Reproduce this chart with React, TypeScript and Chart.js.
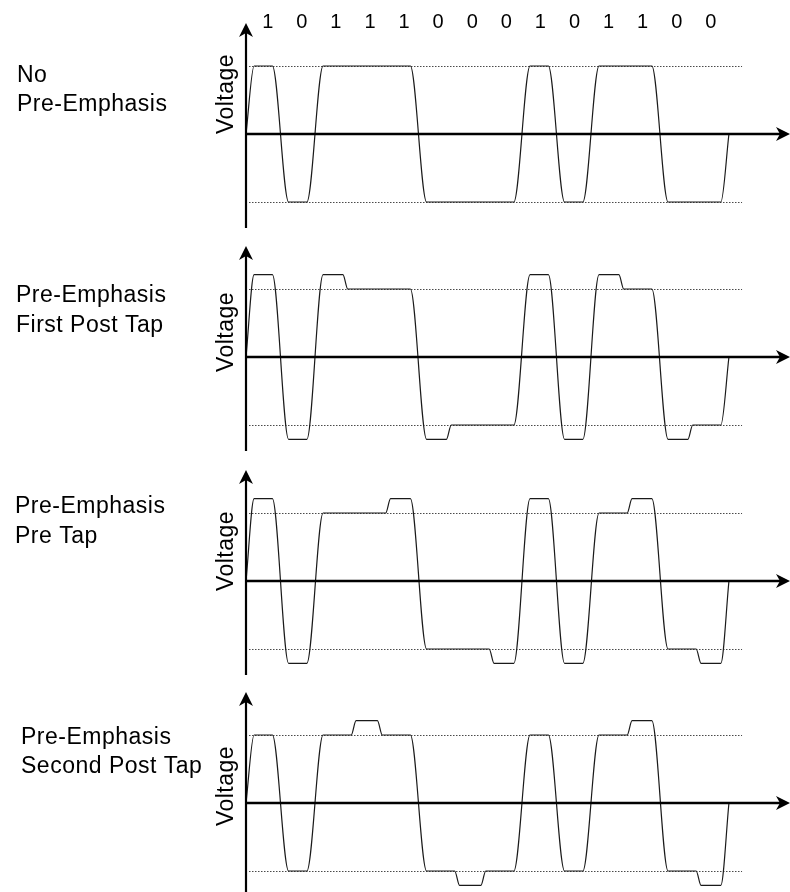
import { useEffect, useRef } from 'react';
import { Chart, registerables } from 'chart.js';

Chart.register(...registerables);

// ---------------- data ----------------
const bitLabels = ['1', '0', '1', '1', '1', '0', '0', '0', '1', '0', '1', '1', '0', '0'];
const bitValues = [1, 0, 1, 1, 1, 0, 0, 0, 1, 0, 1, 1, 0, 0];
// magnitude of the driven level for each bit (1 = nominal swing, 1.21 = emphasised)
const noEmphasisLevels = [1, 1, 1, 1, 1, 1, 1, 1, 1, 1, 1, 1, 1, 1];
const firstPostTapLevels = [1.21, 1.21, 1.21, 1, 1, 1.21, 1, 1, 1.21, 1.21, 1.21, 1, 1.21, 1];
const preTapLevels = [1.21, 1.21, 1, 1, 1.21, 1, 1, 1.21, 1.21, 1.21, 1, 1.21, 1, 1.21];
const secondPostTapLevels = [1, 1, 1, 1.21, 1, 1, 1.21, 1, 1, 1, 1, 1.21, 1, 1.21];
const nominalLevels = [1, -1];
const panelTitles = [
  ['No', 'Pre-Emphasis'],
  ['Pre-Emphasis', 'First Post Tap'],
  ['Pre-Emphasis', 'Pre Tap'],
  ['Pre-Emphasis', 'Second Post Tap'],
];
const yAxisTitle = 'Voltage';

// ---------------- layout / style ----------------
const W = 790;
const CANVAS_H = 232;
const ZERO_IN_CANVAS = 136;
const PANELS = [
  { levels: noEmphasisLevels, zero: 134, titleX: 17, titleY: [82, 111], voltY: 94, showBits: true },
  { levels: firstPostTapLevels, zero: 357, titleX: 16, titleY: [302, 332], voltY: 332, showBits: false },
  { levels: preTapLevels, zero: 581, titleX: 15, titleY: [513, 543], voltY: 551, showBits: false },
  { levels: secondPostTapLevels, zero: 803, titleX: 21, titleY: [744, 773], voltY: 786, showBits: false },
];
const EDGE = 0.235; // half width of a polarity transition, in bit periods
const STEP = 0.07; // half width of an emphasis step, in bit periods
const STEP_SHIFT = 0.12; // emphasis steps sit slightly inside the emphasised bit
const X_MAX = 15.77;
const Y_MIN = -94 / 68;
const Y_MAX = 110 / 68;
const DOT_END = 14.38;
const TEXT_FONT = '23px "Liberation Sans", Arial, sans-serif';
const BIT_FONT = '20px "Liberation Sans", Arial, sans-serif';

function buildWave(levels: number[]) {
  const v = bitValues.map((b, i) => (b ? 1 : -1) * levels[i]);
  const n = v.length;
  const pts: { x: number; y: number }[] = [{ x: 0, y: 0 }];
  const stepCenter = (b: number, a: number, c: number) =>
    b + (Math.abs(c) > Math.abs(a) ? STEP_SHIFT : -STEP_SHIFT);
  for (let i = 0; i < n; i++) {
    const prev = i > 0 ? v[i - 1] : 0;
    const next = i < n - 1 ? v[i + 1] : 0;
    if (i === 0 || v[i] !== prev) {
      if (i === 0 || Math.sign(prev) !== Math.sign(v[i])) pts.push({ x: i + EDGE, y: v[i] });
      else pts.push({ x: stepCenter(i, prev, v[i]) + STEP, y: v[i] });
    }
    if (i === n - 1 || v[i] !== next) {
      if (i === n - 1) {
        pts.push({ x: i + 1 - EDGE, y: v[i] });
        pts.push({ x: i + 1, y: 0 });
      } else if (Math.sign(next) !== Math.sign(v[i])) {
        pts.push({ x: i + 1 - EDGE, y: v[i] });
      } else {
        pts.push({ x: stepCenter(i + 1, v[i], next) - STEP, y: v[i] });
      }
    }
  }
  return pts;
}

function makePlugin(p: (typeof PANELS)[number], idx: number) {
  const canvasTop = p.zero - ZERO_IN_CANVAS;
  return {
    id: 'diagram' + idx,
    beforeDatasetsDraw(chart: any) {
      const { ctx, scales } = chart;
      const xs = scales.x;
      const ys = scales.y;
      ctx.save();
      ctx.strokeStyle = '#4a4a4a';
      ctx.lineWidth = 1;
      ctx.setLineDash([1.5, 1.5]);
      nominalLevels.forEach((lv) => {
        const y = Math.round(ys.getPixelForValue(lv)) + 0.5;
        ctx.beginPath();
        ctx.moveTo(xs.getPixelForValue(0) + 3, y);
        ctx.lineTo(xs.getPixelForValue(DOT_END), y);
        ctx.stroke();
      });
      ctx.restore();
    },
    afterDatasetsDraw(chart: any) {
      const { ctx, scales, chartArea } = chart;
      const xs = scales.x;
      const ys = scales.y;
      const x0 = xs.getPixelForValue(0);
      const y0 = ys.getPixelForValue(0);
      const top = chartArea.top;
      const bottom = chartArea.bottom;
      const right = chartArea.right;
      ctx.save();
      ctx.setLineDash([]);
      ctx.strokeStyle = '#000';
      ctx.fillStyle = '#000';
      // y axis
      ctx.lineWidth = 2.2;
      ctx.beginPath();
      ctx.moveTo(x0, bottom);
      ctx.lineTo(x0, top + 8);
      ctx.stroke();
      ctx.beginPath();
      ctx.moveTo(x0, top - 1);
      ctx.lineTo(x0 - 7, top + 13);
      ctx.lineTo(x0, top + 9);
      ctx.lineTo(x0 + 7, top + 13);
      ctx.closePath();
      ctx.fill();
      // x axis
      ctx.lineWidth = 2.6;
      ctx.beginPath();
      ctx.moveTo(x0, y0);
      ctx.lineTo(right - 8, y0);
      ctx.stroke();
      ctx.beginPath();
      ctx.moveTo(right, y0);
      ctx.lineTo(right - 14, y0 - 7);
      ctx.lineTo(right - 10, y0);
      ctx.lineTo(right - 14, y0 + 7);
      ctx.closePath();
      ctx.fill();

      // bit labels
      if (p.showBits) {
        ctx.font = BIT_FONT;
        ctx.textAlign = 'center';
        ctx.textBaseline = 'alphabetic';
        bitLabels.forEach((b, i) => {
          ctx.fillText(b, xs.getPixelForValue(0.63 + i * 0.988), y0 - 106);
        });
      }
      // panel titles
      ctx.font = TEXT_FONT;
      try {
        (ctx as any).letterSpacing = '0.5px';
      } catch (e) {}
      ctx.textAlign = 'left';
      ctx.textBaseline = 'alphabetic';
      panelTitles[idx].forEach((line, k) => {
        ctx.fillText(line, p.titleX, p.titleY[k] - canvasTop);
      });
      // y axis title
      ctx.translate(233, p.voltY - canvasTop);
      ctx.rotate(-Math.PI / 2);
      ctx.textAlign = 'center';
      ctx.fillText(yAxisTitle, 0, 0);
      ctx.restore();
    },
  };
}

function Panel({ idx }: { idx: number }) {
  const ref = useRef<HTMLCanvasElement>(null);
  const p = PANELS[idx];
  useEffect(() => {
    const chart = new Chart(ref.current as HTMLCanvasElement, {
      type: 'line',
      data: {
        datasets: [
          {
            data: buildWave(p.levels),
            borderColor: '#1a1a1a',
            borderWidth: 1.2,
            pointRadius: 0,
            cubicInterpolationMode: 'monotone',
            fill: false,
          } as any,
        ],
      },
      options: {
        animation: false,
        responsive: false,
        devicePixelRatio: 1,
        events: [],
        layout: { padding: { left: 246, right: 0, top: ZERO_IN_CANVAS - 110, bottom: CANVAS_H - ZERO_IN_CANVAS - 94 } },
        scales: {
          x: { type: 'linear', min: 0, max: X_MAX, display: false },
          y: { type: 'linear', min: Y_MIN, max: Y_MAX, display: false },
        },
        plugins: { legend: { display: false }, tooltip: { enabled: false } },
      },
      plugins: [makePlugin(p, idx)],
    } as any);
    return () => chart.destroy();
  }, []);
  return (
    <canvas
      ref={ref}
      width={W}
      height={CANVAS_H}
      style={{ position: 'absolute', left: 0, top: p.zero - ZERO_IN_CANVAS, width: W, height: CANVAS_H }}
    />
  );
}

export default function App() {
  return (
    <div
      style={{
        position: 'absolute',
        left: 0,
        top: 0,
        width: W,
        height: 892,
        overflow: 'hidden',
        background: '#fff',
      }}
    >
      {PANELS.map((_, i) => (
        <Panel key={i} idx={i} />
      ))}
    </div>
  );
}
